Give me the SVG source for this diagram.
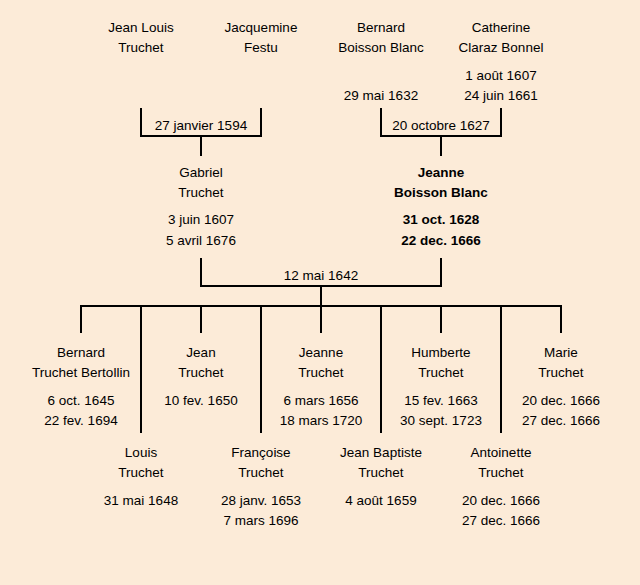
<svg xmlns="http://www.w3.org/2000/svg" width="640" height="585" viewBox="0 0 640 585">
<style>
text{font-family:"Liberation Sans","DejaVu Sans",sans-serif;font-size:13.5px;fill:#000;text-anchor:middle}
.b{font-weight:bold}
.c line{stroke:#000;stroke-width:2;stroke-linecap:square}
</style>
<rect width="640" height="585" fill="#FCEBD8"/>
<g class="c" id="connectors">
<line x1="141" y1="109" x2="141" y2="136"/>
<line x1="261" y1="109" x2="261" y2="136"/>
<line x1="141" y1="136" x2="261" y2="136"/>
<line x1="201" y1="136" x2="201" y2="155"/>
<line x1="381" y1="109" x2="381" y2="136"/>
<line x1="501" y1="109" x2="501" y2="136"/>
<line x1="381" y1="136" x2="501" y2="136"/>
<line x1="441" y1="136" x2="441" y2="155"/>
<line x1="201" y1="259" x2="201" y2="286"/>
<line x1="441" y1="259" x2="441" y2="286"/>
<line x1="201" y1="286" x2="441" y2="286"/>
<line x1="321" y1="286" x2="321" y2="306"/>
<line x1="81" y1="306" x2="561" y2="306"/>
<line x1="81" y1="306" x2="81" y2="332"/>
<line x1="201" y1="306" x2="201" y2="332"/>
<line x1="321" y1="306" x2="321" y2="332"/>
<line x1="441" y1="306" x2="441" y2="332"/>
<line x1="561" y1="306" x2="561" y2="332"/>
<line x1="141" y1="306" x2="141" y2="432"/>
<line x1="261" y1="306" x2="261" y2="432"/>
<line x1="381" y1="306" x2="381" y2="432"/>
<line x1="501" y1="306" x2="501" y2="432"/>
</g>
<g id="labels">
<text x="201" y="130">27 janvier 1594</text>
<text x="441" y="130">20 octobre 1627</text>
<text x="321" y="280">12 mai 1642</text>
</g>
<g id="jean-louis"><text x="141" y="32">Jean Louis</text><text x="141" y="52">Truchet</text></g>
<g id="jacquemine"><text x="261" y="32">Jacquemine</text><text x="261" y="52">Festu</text></g>
<g id="bernard-bb"><text x="381" y="32">Bernard</text><text x="381" y="52">Boisson Blanc</text><text x="381" y="100">29 mai 1632</text></g>
<g id="catherine"><text x="501" y="32">Catherine</text><text x="501" y="52">Claraz Bonnel</text><text x="501" y="80">1 août 1607</text><text x="501" y="100">24 juin 1661</text></g>
<g id="gabriel"><text x="201" y="177">Gabriel</text><text x="201" y="197">Truchet</text><text x="201" y="224">3 juin 1607</text><text x="201" y="245">5 avril 1676</text></g>
<g id="jeanne-bb" class="b"><text x="441" y="177" class="b">Jeanne</text><text x="441" y="197" class="b">Boisson Blanc</text><text x="441" y="224" class="b">31 oct. 1628</text><text x="441" y="245" class="b">22 dec. 1666</text></g>
<g id="bernard-t"><text x="81" y="357">Bernard</text><text x="81" y="377">Truchet Bertollin</text><text x="81" y="405">6 oct. 1645</text><text x="81" y="425">22 fev. 1694</text></g>
<g id="jean-t"><text x="201" y="357">Jean</text><text x="201" y="377">Truchet</text><text x="201" y="405">10 fev. 1650</text></g>
<g id="jeanne-t"><text x="321" y="357">Jeanne</text><text x="321" y="377">Truchet</text><text x="321" y="405">6 mars 1656</text><text x="321" y="425">18 mars 1720</text></g>
<g id="humberte"><text x="441" y="357">Humberte</text><text x="441" y="377">Truchet</text><text x="441" y="405">15 fev. 1663</text><text x="441" y="425">30 sept. 1723</text></g>
<g id="marie"><text x="561" y="357">Marie</text><text x="561" y="377">Truchet</text><text x="561" y="405">20 dec. 1666</text><text x="561" y="425">27 dec. 1666</text></g>
<g id="louis"><text x="141" y="457">Louis</text><text x="141" y="477">Truchet</text><text x="141" y="505">31 mai 1648</text></g>
<g id="francoise"><text x="261" y="457">Françoise</text><text x="261" y="477">Truchet</text><text x="261" y="505">28 janv. 1653</text><text x="261" y="525">7 mars 1696</text></g>
<g id="jean-baptiste"><text x="381" y="457">Jean Baptiste</text><text x="381" y="477">Truchet</text><text x="381" y="505">4 août 1659</text></g>
<g id="antoinette"><text x="501" y="457">Antoinette</text><text x="501" y="477">Truchet</text><text x="501" y="505">20 dec. 1666</text><text x="501" y="525">27 dec. 1666</text></g>
</svg>
